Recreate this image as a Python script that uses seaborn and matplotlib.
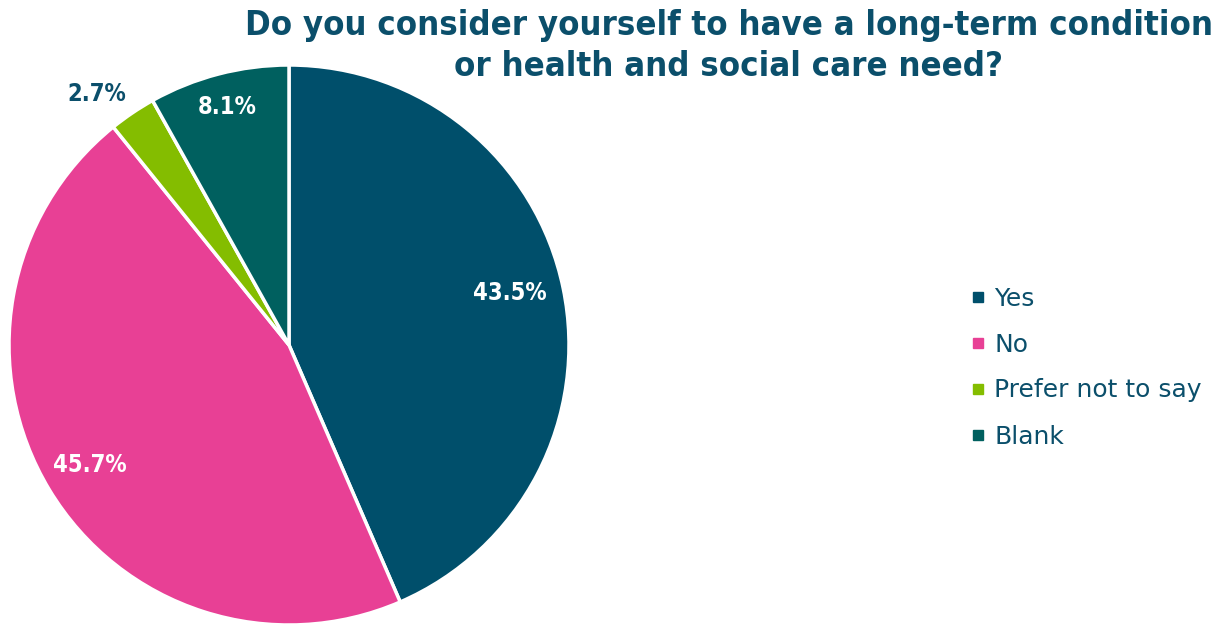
import numpy as np
import matplotlib
matplotlib.use("Agg")
import matplotlib.pyplot as plt
import seaborn as sns
from matplotlib.lines import Line2D

sns.set_theme(style="white")
plt.rcParams["font.family"] = ["DejaVu Sans"]

categories = ["Yes", "No", "Prefer not to say", "Blank"]
values = [43.5, 45.7, 2.7, 8.1]
colors = ["#004F6B", "#E84095", "#84BD00", "#00605F"]
label_colors = ["white", "white", "#0B4F6B", "white"]
label_dist = [0.81, 0.83, 1.13, 0.88]
label_turn = [1.5, 0.0, 3.4, 0.0]

title = "Do you consider yourself to have a long-term condition\nor health and social care need?"
text_color = "#0B4F6B"

fig = plt.figure(figsize=(12.21, 6.25), dpi=100)
ax = fig.add_axes([9 / 1221, 0.0, 560 / 1221, 560 / 625])

wedges, _ = ax.pie(
    values, colors=colors, startangle=90, counterclock=False,
    wedgeprops=dict(edgecolor="white", linewidth=2.5),
)
ax.set_xlim(-1, 1)
ax.set_ylim(-1, 1)
ax.set_aspect("equal")
ax.axis("off")

for w, v, c, d, t in zip(wedges, values, label_colors, label_dist, label_turn):
    ang = np.deg2rad((w.theta1 + w.theta2) / 2 + t)
    ax.text(d * np.cos(ang), d * np.sin(ang), f"{v:.1f}%", color=c,
            ha="center", va="center", fontsize=17, fontweight="bold",
            fontstretch="condensed")

fig.text(729 / 1221, 1 - 9 / 625, title, ha="center", va="top",
         fontsize=24.8, fontweight="bold", color=text_color,
         fontstretch="condensed", linespacing=1.32)

handles = [Line2D([0], [0], marker="s", linestyle="none", markersize=7,
                  markerfacecolor=c, markeredgecolor=c) for c in colors]
leg = fig.legend(handles, categories, loc="upper left",
                 bbox_to_anchor=(958 / 1221, 1 - 274 / 625), frameon=False,
                 fontsize=18, labelspacing=0.88, handlelength=0.6,
                 handletextpad=0.35, borderpad=0)
for t in leg.get_texts():
    t.set_color(text_color)

fig.savefig("out.png", dpi=100, facecolor="white")
